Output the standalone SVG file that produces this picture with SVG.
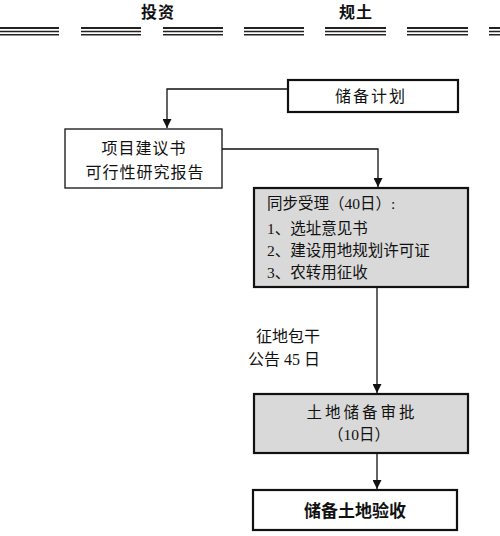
<svg xmlns="http://www.w3.org/2000/svg" width="500" height="536" viewBox="0 0 500 536">
<defs>
<style>
text{font-family:"Liberation Serif","Noto Sans CJK SC",serif;fill:#111;}
.hd{font-size:16px;font-weight:bold;text-anchor:middle;letter-spacing:1px;}
.t{font-size:15.5px;}
.c{text-anchor:middle;}
.box{fill:#fff;stroke:#111;stroke-width:1.3;}
.bold{fill:#fff;stroke:#111;stroke-width:2.2;}
.gray{fill:#d9d9d9;stroke:#111;stroke-width:2.2;}
.ln{fill:none;stroke:#111;stroke-width:1.3;}
.rule{stroke:#222;}
</style>
<marker id="ar" viewBox="0 0 10 10" refX="10" refY="5" markerWidth="9" markerHeight="9" markerUnits="userSpaceOnUse" orient="auto">
<path d="M0,0 L10,5 L0,10 z" fill="#111"/>
</marker>
</defs>
<g id="header">
<text class="hd" x="158" y="18">投资</text>
<text class="hd" x="356" y="18">规土</text>
<g class="rule">
<path d="M0,28H59M81,28H141M163,28H223M244,28H304M325,28H386M407,28H468M489,28H500" stroke-width="2"/>
<path d="M0,31.5H59M81,31.5H141M163,31.5H223M244,31.5H304M325,31.5H386M407,31.5H468M489,31.5H500" stroke-width="1.5"/>
<path d="M0,34.8H59M81,34.8H141M163,34.8H223M244,34.8H304M325,34.8H386M407,34.8H468M489,34.8H500" stroke-width="1.5"/>
</g>
</g>
<g id="connectors">
<path class="ln" d="M288,89H167V128" marker-end="url(#ar)"/>
<path class="ln" d="M222,149H378V187" marker-end="url(#ar)"/>
<path class="ln" d="M377,287V393" marker-end="url(#ar)"/>
<path class="ln" d="M377,453V489" marker-end="url(#ar)"/>
</g>
<g id="n1">
<rect class="bold" x="288" y="80" width="170" height="32"/>
<text class="t c" x="371" y="102" style="font-size:16px;letter-spacing:2px">储备计划</text>
</g>
<g id="n2">
<rect class="box" x="65" y="129" width="157" height="59"/>
<text class="t c" x="144" y="154" style="font-size:16px;letter-spacing:1px">项目建议书</text>
<text class="t c" x="145" y="178" style="font-size:16px;letter-spacing:1px">可行性研究报告</text>
</g>
<g id="n3">
<rect class="gray" x="254" y="188" width="214" height="99"/>
<text class="t" x="267" y="209">同步受理（40日）:</text>
<text class="t" x="267" y="234">1、选址意见书</text>
<text class="t" x="267" y="256">2、建设用地规划许可证</text>
<text class="t" x="267" y="278">3、农转用征收</text>
</g>
<g id="label">
<text class="t" x="320" y="342" text-anchor="end" style="font-size:16px">征地包干</text>
<text class="t" x="320" y="365" text-anchor="end" style="font-size:16px">公告 45 日</text>
</g>
<g id="n4">
<rect class="gray" x="254" y="394" width="214" height="59"/>
<text class="t c" x="362" y="418" style="letter-spacing:3px">土地储备审批</text>
<text class="t c" x="359" y="440">（10日）</text>
</g>
<g id="n5">
<rect class="bold" x="253" y="490" width="204" height="40"/>
<text class="t c" x="355" y="517" style="font-size:17px;font-weight:bold">储备土地验收</text>
</g>
</svg>
